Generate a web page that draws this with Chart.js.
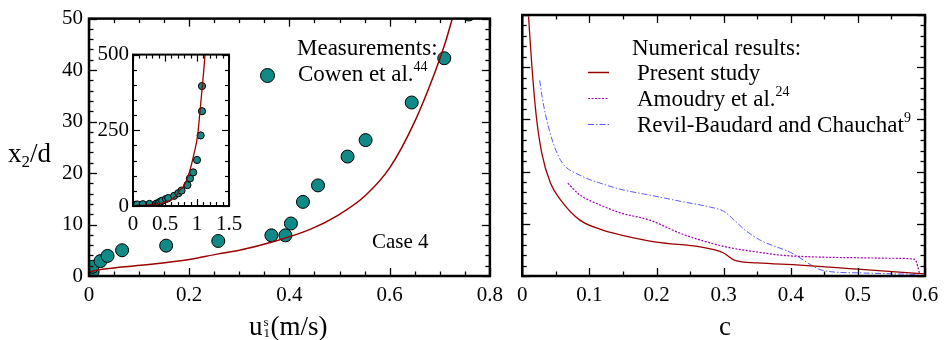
<!DOCTYPE html>
<html><head><meta charset="utf-8">
<script src="https://cdn.jsdelivr.net/npm/chart.js@4.4.1/dist/chart.umd.min.js"></script>
<style>
body{margin:0;background:#fff;width:946px;height:340px;overflow:hidden;position:relative;font-family:"Liberation Serif","DejaVu Serif",serif;}
canvas{position:absolute;}
.t{position:absolute;white-space:nowrap;color:#000;line-height:1;font-size:23px;}
.sup{font-size:14px;position:relative;top:-10px;}
.ln{position:absolute;}
</style></head><body>
<canvas id="left" width="510" height="340" style="left:0;top:0"></canvas>
<canvas id="right" width="436" height="340" style="left:510px;top:0"></canvas>
<canvas id="inset" width="172" height="200" style="left:78px;top:38px"></canvas>

<div class="t" style="left:8px;top:140px;font-size:27px">x<span style="font-size:17px;position:relative;top:5px">2</span>/d</div>
<div class="t" style="left:249px;top:313px;font-size:27px">u<span style="display:inline-block;position:relative;width:8px;height:20px;vertical-align:top"><span style="position:absolute;left:1px;top:2px;font-size:13px">s</span><span style="position:absolute;left:1px;top:13px;font-size:13px">1</span></span>(m/s)</div>
<div class="t" style="left:719px;top:313px;font-size:27px">c</div>

<div class="t" style="left:297px;top:36px">Measurements:</div>
<div class="t" style="left:298px;top:62px">Cowen et al.<span class="sup">44</span></div>
<div style="position:absolute;left:260px;top:68px;width:13px;height:13px;border-radius:50%;background:#0f8a87;border:1px solid #000"></div>
<div class="t" style="left:372px;top:231px;font-size:21px">Case 4</div>

<div class="t" style="left:632px;top:36px">Numerical results:</div>
<div class="t" style="left:637px;top:61px">Present study</div>
<div class="t" style="left:637px;top:87px">Amoudry et al.<span class="sup">24</span></div>
<div class="t" style="left:637px;top:113px">Revil-Baudard and Chauchat<span class="sup">9</span></div>
<svg class="ln" style="left:586px;top:66px" width="26" height="64">
<line x1="2" y1="6.5" x2="23" y2="6.5" stroke="#9b0000" stroke-width="1.5"/>
<line x1="2" y1="32.5" x2="23" y2="32.5" stroke="#a000b4" stroke-width="1.2" stroke-dasharray="2,1.5"/>
<line x1="2" y1="58.5" x2="23" y2="58.5" stroke="#5b5bff" stroke-width="1" stroke-dasharray="6,2,1.5,2"/>
</svg>

<script>
// ---- data ----
// left panel + inset: Cowen et al. measurements (u1s [m/s], x2/d)
const measU  = [0.007,0.007,0.023,0.037,0.066,0.154,0.258,0.364,0.392,0.403,0.427,0.457,0.516,0.552,0.644,0.709,0.758,0.85,0.89,0.94,1.0,1.057,1.078,1.078];
const measX2 = [0.8,1.8,2.9,3.9,5.0,5.9,6.8,7.9,7.9,10.2,14.4,17.6,23.2,26.4,33.7,42.3,50.8,69,91,111,152,233,313,396];
// present study velocity profile
const modelU  = [0,0.02,0.06,0.114,0.2,0.258,0.3,0.376,0.44,0.495,0.55,0.6,0.65,0.69,0.71,0.73,0.8,0.88,0.95,1.01,1.05,1.09,1.13];
const modelX2 = [0.8,1.2,1.7,2.2,3.2,4.3,5.0,6.9,9.0,11.7,15.5,21,30,39.5,45,51.5,68,111,170,233,320,410,510];
// right panel: concentration profiles (c, x2/d)
const presentC  = [0.0094,0.0144,0.021,0.029,0.042,0.057,0.086,0.12,0.146,0.2,0.265,0.287,0.3,0.317,0.35,0.414,0.5,0.6];
const presentX2 = [49.7,40.1,30.5,23.6,17.8,14.6,10.7,8.8,7.9,6.5,5.6,5.0,4.4,3.0,2.5,2.1,1.3,0.4];
const amoudryC  = [0.068,0.075,0.086,0.1,0.116,0.146,0.19,0.235,0.265,0.31,0.35,0.384,0.45,0.5,0.55,0.585,0.592];
const amoudryX2 = [17.8,16.8,15.5,14.5,13.6,12.1,10.7,8.2,6.9,5.4,4.6,4.0,3.6,3.5,3.4,3.2,0.5];
const revilC  = [0.026,0.03,0.041,0.057,0.086,0.116,0.15,0.19,0.24,0.28,0.3,0.315,0.33,0.354,0.4,0.45,0.5,0.59];
const revilX2 = [37.5,34,27.6,22.2,19.3,17.8,16.5,15.5,14.2,13.2,12.4,10.8,9.0,6.9,4.5,1.0,0.6,0.3];
// axis ticks
const leftXTicks = [0,0.8,0.2,0.05];   // min,max,major,minor
const rightXTicks = [0,0.6,0.1,0.05];
const mainYTicks = [0,50,10,2];
const insetXTicks = [0,1.5,0.5,0.1];
const insetYTicks = [0,500,250,50];

const FONT = "'Liberation Serif','DejaVu Serif',serif";
const pts = (xs, ys) => xs.map((v, i) => ({x: v, y: ys[i]}));
const fmt = v => String(+(+v).toFixed(3));

const frameTicks = {
  id: 'frameTicks',
  afterDraw(chart, args, o) {
    const {ctx, chartArea: a, scales: {x, y}} = chart;
    ctx.save();
    ctx.strokeStyle = '#000';
    ctx.lineWidth = o.tw;
    const seg = (x1, y1, x2, y2) => { ctx.beginPath(); ctx.moveTo(x1, y1); ctx.lineTo(x2, y2); ctx.stroke(); };
    const doAxis = (scale, t, horiz) => {
      const n = Math.round((t[1] - t[0]) / t[3]);
      const ratio = Math.round(t[2] / t[3]);
      for (let i = 0; i <= n; i++) {
        const v = t[0] + i * t[3];
        const len = (i % ratio === 0) ? o.maj : o.min;
        const p = Math.round(scale.getPixelForValue(v)) + 0.5;
        if (horiz) { seg(p, a.bottom, p, a.bottom - len); seg(p, a.top, p, a.top + len); }
        else { seg(a.left, p, a.left + len, p); seg(a.right, p, a.right - len, p); }
      }
    };
    doAxis(x, o.xt, true);
    doAxis(y, o.yt, false);
    ctx.lineWidth = o.fw;
    ctx.strokeRect(a.left, a.top, a.right - a.left, a.bottom - a.top);
    ctx.restore();
  }
};

function axis(t, size, showLabels, fit, pad) {
  return {
    type: 'linear', min: t[0], max: t[1],
    grid: {display: false, drawTicks: false}, border: {display: false},
    ticks: {display: showLabels, stepSize: t[2], autoSkip: false, maxRotation: 0, padding: pad,
            color: '#000', font: {family: FONT, size: size}, callback: v => fmt(v)},
    afterFit: fit
  };
}
const base = (extra) => Object.assign({responsive: false, animation: false, events: [],
  plugins: {legend: {display: false}, tooltip: {enabled: false}}}, extra);

// left main chart
new Chart(document.getElementById('left'), {
  type: 'scatter',
  data: {datasets: [
    {type: 'line', data: pts(modelU, modelX2), borderColor: '#9b0000', borderWidth: 1.5, pointRadius: 0,
     cubicInterpolationMode: 'monotone', fill: false},
    {data: pts(measU, measX2), pointRadius: 6.5, backgroundColor: '#0f8a87', borderColor: '#000', borderWidth: 1}
  ]},
  options: base({
    layout: {padding: {left: 0, right: 15, top: 15, bottom: 0}},
    plugins: {legend: {display: false}, tooltip: {enabled: false},
      frameTicks: {xt: leftXTicks, yt: mainYTicks, maj: 8, min: 4.5, tw: 1.3, fw: 2.5}},
    scales: {
      x: axis(leftXTicks, 21, true, s => { s.height = 64; }, 7),
      y: axis(mainYTicks, 21, true, s => { s.width = 89; }, 6)
    }
  }),
  plugins: [frameTicks]
});

// right chart
new Chart(document.getElementById('right'), {
  type: 'scatter',
  data: {datasets: [
    {type: 'line', data: pts(presentC, presentX2), borderColor: '#9b0000', borderWidth: 1.3, pointRadius: 0, cubicInterpolationMode: 'monotone'},
    {type: 'line', data: pts(amoudryC, amoudryX2), borderColor: '#a000b4', borderWidth: 1.2, borderDash: [2, 1.5], pointRadius: 0, cubicInterpolationMode: 'monotone'},
    {type: 'line', data: pts(revilC, revilX2), borderColor: '#5b5bff', borderWidth: 1, borderDash: [6, 2, 1.5, 2], pointRadius: 0, cubicInterpolationMode: 'monotone'}
  ]},
  options: base({
    layout: {padding: {left: 0, right: 21, top: 15, bottom: 0}},
    plugins: {legend: {display: false}, tooltip: {enabled: false},
      frameTicks: {xt: rightXTicks, yt: mainYTicks, maj: 8, min: 4.5, tw: 1.3, fw: 2.5}},
    scales: {
      x: axis(rightXTicks, 21, true, s => { s.height = 64; }, 7),
      y: axis(mainYTicks, 21, false, s => { s.width = 12; }, 6)
    }
  }),
  plugins: [frameTicks]
});

// inset
new Chart(document.getElementById('inset'), {
  type: 'scatter',
  data: {datasets: [
    {type: 'line', data: pts(modelU, modelX2), borderColor: '#9b0000', borderWidth: 1.3, pointRadius: 0, cubicInterpolationMode: 'monotone'},
    {data: pts(measU, measX2), pointRadius: 3.6, backgroundColor: '#0f8a87', borderColor: '#000', borderWidth: 1}
  ]},
  options: base({
    layout: {padding: {left: 0, right: 21, top: 16, bottom: 0}},
    plugins: {legend: {display: false}, tooltip: {enabled: false},
      frameTicks: {xt: insetXTicks, yt: insetYTicks, maj: 7, min: 4, tw: 1.2, fw: 2}},
    scales: {
      x: axis(insetXTicks, 21, true, s => { s.height = 32; }, 6),
      y: axis(insetYTicks, 21, true, s => { s.width = 55; }, 4)
    }
  }),
  plugins: [frameTicks]
});
</script>
</body></html>
